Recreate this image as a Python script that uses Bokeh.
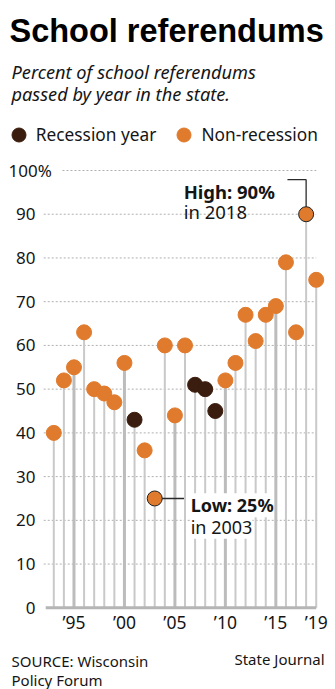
from bokeh.plotting import figure
from bokeh.models import Range1d, Label, ColumnDataSource, FixedTicker, Legend, LegendItem
from bokeh.embed import file_html
from bokeh.resources import INLINE

# ---------------- data ----------------
years = list(range(1993, 2020))
passed_pct = [40, 52, 55, 63, 50, 49, 47, 56, 43, 36, 25, 60, 44, 60,
              51, 50, 45, 52, 56, 67, 61, 67, 69, 79, 63, 90, 75]
recession_years = [2001, 2007, 2008, 2009]
y_ticks = [0, 10, 20, 30, 40, 50, 60, 70, 80, 90, 100]
x_ticks = [1995, 2000, 2005, 2010, 2015, 2019]
x_tick_labels = ["\u201995", "\u201900", "\u201905", "\u201910", "\u201915", "\u201919"]

title_text = "School referendums"
subtitle_lines = ["Percent of school referendums", "passed by year in the state."]
legend_labels = ["Recession year", "Non-recession"]
source_lines = ["SOURCE: Wisconsin", "Policy Forum"]
credit_text = "State Journal"

# ---------------- style ----------------
ORANGE = "#e07a2c"
DARK = "#3a1d0e"
TEXT = "#151515"
GRID = "#b0b0b0"
STEM = "#c9c9c9"
STEM5 = "#bcbcbc"
FONT = "Noto Sans"

W, H = 335, 689
PX_PER_YEAR = 10.093
PX_PER_PCT = 4.373
X0_PX, Y0_PX = 53.3, 607.3   # pixel of first year / of 0 %

x_start = years[0] - X0_PX / PX_PER_YEAR
x_end = years[0] + (W - X0_PX) / PX_PER_YEAR
y_start = -(H - Y0_PX) / PX_PER_PCT
y_end = Y0_PX / PX_PER_PCT

p = figure(width=W, height=H,
           x_range=Range1d(x_start, x_end), y_range=Range1d(y_start, y_end),
           output_backend="svg", toolbar_location=None,
           min_border=0, min_border_left=0, min_border_right=0,
           min_border_top=0, min_border_bottom=0,
           outline_line_color=None, background_fill_color="white",
           border_fill_color="white")
p.xgrid.visible = False
p.ygrid.visible = False

# dashed gridlines
grid_vals = [t for t in y_ticks if t > 0]
grid_x0 = [years[0] - 1.0 if t < 100 else years[0] + 0.86 for t in grid_vals]
p.segment(x0=grid_x0, y0=grid_vals, x1=[years[-1]] * len(grid_vals), y1=grid_vals,
          line_color=GRID, line_width=1, line_dash="2 2")

# stems
thin_x = [y for y in years if y % 5]
thin_v = [v for y, v in zip(years, passed_pct) if y % 5]
thick_x = [y for y in years if y % 5 == 0]
thick_v = [v for y, v in zip(years, passed_pct) if y % 5 == 0]
p.segment(x0=thin_x, y0=[0] * len(thin_x), x1=thin_x, y1=thin_v,
          line_color=STEM, line_width=2)
p.segment(x0=thick_x, y0=[0] * len(thick_x), x1=thick_x, y1=thick_v,
          line_color=STEM5, line_width=3)

# baseline
p.segment(x0=[years[0] - 0.8], y0=[0], x1=[years[-1]], y1=[0],
          line_color="#b5b5b5", line_width=3)

hi = passed_pct.index(max(passed_pct))
lo = passed_pct.index(min(passed_pct))
hi_y, hi_v = years[hi], passed_pct[hi]
lo_y, lo_v = years[lo], passed_pct[lo]

# connectors
p.segment(x0=[lo_y], y0=[lo_v], x1=[lo_y + 2.9], y1=[lo_v], line_color="#2a2a2a", line_width=1.3)
p.line(x=[hi_y, hi_y, hi_y - 1.85], y=[hi_v, 97.9, 97.9], line_color="#2a2a2a", line_width=1.3)

# points
non_x = [y for y in years if y not in recession_years]
non_v = [v for y, v in zip(years, passed_pct) if y not in recession_years]
non_line = ["#222222" if y in (hi_y, lo_y) else ORANGE for y in non_x]
rec_x = [y for y in years if y in recession_years]
rec_v = [v for y, v in zip(years, passed_pct) if y in recession_years]

non_src = ColumnDataSource(dict(x=non_x, y=non_v, lc=non_line))
rec_src = ColumnDataSource(dict(x=rec_x, y=rec_v))
r_non = p.scatter("x", "y", source=non_src, size=15, fill_color=ORANGE,
                  line_color="lc", line_width=1)
r_rec = p.scatter("x", "y", source=rec_src, size=15, fill_color=DARK,
                  line_color=DARK, line_width=1)

# axes, drawn inside the canvas at fixed locations
p.yaxis.fixed_location = years[0] - (X0_PX - 40) / PX_PER_YEAR
p.yaxis.ticker = FixedTicker(ticks=y_ticks)
p.yaxis.major_label_overrides = {100: ""}
p.yaxis.axis_line_color = None
p.yaxis.major_tick_line_color = None
p.yaxis.minor_tick_line_color = None
p.yaxis.major_tick_out = 0
p.yaxis.major_tick_in = 0
p.yaxis.major_label_standoff = 5
p.yaxis.major_label_text_font = FONT
p.yaxis.major_label_text_font_size = "17px"
p.yaxis.major_label_text_color = TEXT

p.xaxis.fixed_location = 0
p.xaxis.ticker = FixedTicker(ticks=x_ticks)
p.xaxis.major_label_overrides = dict(zip(x_ticks, x_tick_labels))
p.xaxis.axis_line_color = None
p.xaxis.major_tick_line_color = None
p.xaxis.minor_tick_line_color = None
p.xaxis.major_tick_out = 0
p.xaxis.major_tick_in = 0
p.xaxis.major_label_standoff = 2
p.xaxis.major_label_text_font = FONT
p.xaxis.major_label_text_font_size = "17.5px"
p.xaxis.major_label_text_color = TEXT


def lab(text, X, Y, size, style="normal", align="left", font=FONT, color=TEXT):
    p.add_layout(Label(x=X, y=H - Y, x_units="screen", y_units="screen",
                       text=text, text_font=font, text_font_size=size,
                       text_font_style=style, text_align=align,
                       text_baseline="alphabetic", text_color=color))


# "100%" label at top tick
p.add_layout(Label(x=8, y=y_ticks[-1], x_units="screen", y_units="data",
                   text=f"{y_ticks[-1]}%", text_font=FONT, text_font_size="17px",
                   text_baseline="middle", text_align="left", text_color=TEXT))

# titles
lab(title_text, 9, 30, "32.5px", style="bold", font="Liberation Sans", color="#000000")
lab(subtitle_lines[0], 11, 71, "18.2px", style="italic")
lab(subtitle_lines[1], 11, 93, "18.2px", style="italic")

# source / credit
lab(source_lines[0], 11, 660, "15px")
lab(source_lines[1], 11, 679, "15px")
lab(credit_text, 324, 658, "15px", align="right")

# annotations
for txt, dx, dy, st in [(f"Low: {lo_v}%", 36, -6.7, "bold"), (f"in {lo_y}", 36, -28.3, "normal")]:
    p.add_layout(Label(x=lo_y, y=lo_v, x_offset=dx, y_offset=dy, text=txt,
                       text_font=FONT, text_font_size="18px", text_font_style=st,
                       text_baseline="alphabetic", text_color=TEXT,
                       background_fill_color="white"))
for txt, dx, dy, st in [(f"High: {hi_v}%", -122.5, 23, "bold"), (f"in {hi_y}", -122.5, 2.3, "normal")]:
    p.add_layout(Label(x=hi_y, y=hi_v, x_offset=dx, y_offset=dy, text=txt,
                       text_font=FONT, text_font_size="18.5px", text_font_style=st,
                       text_baseline="alphabetic", text_color=TEXT))

# legend
legend = Legend(items=[LegendItem(label=legend_labels[0], renderers=[r_rec]),
                       LegendItem(label=legend_labels[1], renderers=[r_non])],
                orientation="horizontal", location=(0.8, H - 116.8 - 35),
                glyph_width=35, glyph_height=35, label_standoff=-3, spacing=10,
                padding=0, margin=0, border_line_color=None,
                background_fill_alpha=0, label_text_font=FONT,
                label_text_font_size="17.3px", label_text_color=TEXT)
p.add_layout(legend)

with open("out.html", "w") as f:
    f.write(file_html(p, INLINE))
